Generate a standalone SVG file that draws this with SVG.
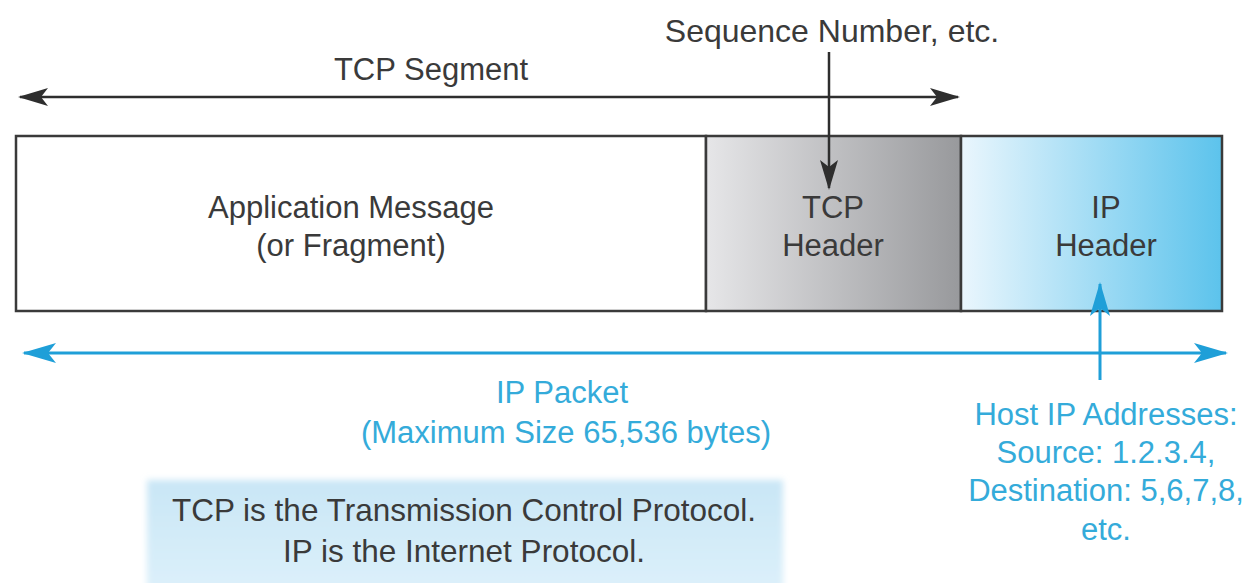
<svg xmlns="http://www.w3.org/2000/svg" width="1249" height="583" viewBox="0 0 1249 583">
  <style>
    .lbl { font-family: "Liberation Sans", Arial, sans-serif; font-size: 31px; fill: #3a3a3a; text-anchor: middle; }
    .blue { fill: #34abda; }
    .frame { stroke: #3a3a3a; stroke-width: 2.5; }
    .dark { stroke: #2e2e2e; stroke-width: 2.5; fill: none; }
    .cyan { stroke: #1f9fd8; stroke-width: 3; fill: none; }
  </style>
  <defs>
    <linearGradient id="gTcp" x1="0" y1="0" x2="1" y2="0">
      <stop offset="0" stop-color="#e6e6e8"/>
      <stop offset="1" stop-color="#98999c"/>
    </linearGradient>
    <linearGradient id="gIp" x1="0" y1="0" x2="1" y2="0">
      <stop offset="0" stop-color="#eaf6fd"/>
      <stop offset="1" stop-color="#5cc3ec"/>
    </linearGradient>
    <linearGradient id="gNote" x1="0" y1="0" x2="0" y2="1">
      <stop offset="0" stop-color="#c9e6f6"/>
      <stop offset="1" stop-color="#dcf0fa"/>
    </linearGradient>
    <filter id="soft" x="-5%" y="-20%" width="110%" height="140%">
      <feGaussianBlur stdDeviation="3"/>
    </filter>
    <marker id="headDark" viewBox="0 0 30 20" refX="28" refY="10" markerWidth="30" markerHeight="20" markerUnits="userSpaceOnUse" orient="auto-start-reverse">
      <path d="M0,1 L30,10 L0,19 L7,10 Z" fill="#2e2e2e"/>
    </marker>
    <marker id="headCyan" viewBox="0 0 34 22" refX="32" refY="11" markerWidth="34" markerHeight="22" markerUnits="userSpaceOnUse" orient="auto-start-reverse">
      <path d="M0,1 L34,11 L0,21 L8,11 Z" fill="#1f9fd8"/>
    </marker>
  </defs>

  <!-- note panel -->
  <g id="note">
    <rect x="147" y="480" width="636" height="110" fill="url(#gNote)" filter="url(#soft)"/>
    <text class="lbl" x="464" y="521" style="font-size:31.5px">TCP is the Transmission Control Protocol.</text>
    <text class="lbl" x="464" y="562" style="font-size:31.5px">IP is the Internet Protocol.</text>
  </g>

  <!-- packet segments -->
  <g id="app-message">
    <rect x="16" y="136" width="690" height="175" fill="#ffffff" class="frame"/>
    <text class="lbl" x="351" y="218">Application Message</text>
    <text class="lbl" x="351" y="256">(or Fragment)</text>
  </g>
  <g id="tcp-header">
    <rect x="706" y="136" width="255" height="175" fill="url(#gTcp)" class="frame"/>
    <text class="lbl" x="833" y="218">TCP</text>
    <text class="lbl" x="833" y="256">Header</text>
  </g>
  <g id="ip-header">
    <rect x="961" y="136" width="261" height="175" fill="url(#gIp)" class="frame"/>
    <text class="lbl" x="1106" y="218">IP</text>
    <text class="lbl" x="1106" y="256">Header</text>
  </g>

  <!-- labels -->
  <g id="tcp-segment-label">
    <text class="lbl" x="431" y="80">TCP Segment</text>
  </g>
  <g id="seq-label">
    <text class="lbl" x="832" y="42" style="font-size:32px">Sequence Number, etc.</text>
  </g>
  <g id="ip-packet-label">
    <text class="lbl blue" x="562" y="403">IP Packet</text>
    <text class="lbl blue" x="566" y="443">(Maximum Size 65,536 bytes)</text>
  </g>
  <g id="host-label">
    <text class="lbl blue" x="1106" y="425">Host IP Addresses:</text>
    <text class="lbl blue" x="1106" y="463">Source: 1.2.3.4,</text>
    <text class="lbl blue" x="1106" y="501">Destination: 5,6,7,8,</text>
    <text class="lbl blue" x="1106" y="540">etc.</text>
  </g>

  <!-- connectors -->
  <g id="connectors">
    <line x1="20" y1="97" x2="958" y2="97" class="dark" marker-start="url(#headDark)" marker-end="url(#headDark)"/>
    <line x1="829" y1="52" x2="829" y2="188" class="dark" marker-end="url(#headDark)"/>
    <line x1="24" y1="353" x2="1226" y2="353" class="cyan" marker-start="url(#headCyan)" marker-end="url(#headCyan)"/>
    <line x1="1100" y1="380" x2="1100" y2="284" class="cyan" marker-end="url(#headCyan)"/>
  </g>
</svg>
